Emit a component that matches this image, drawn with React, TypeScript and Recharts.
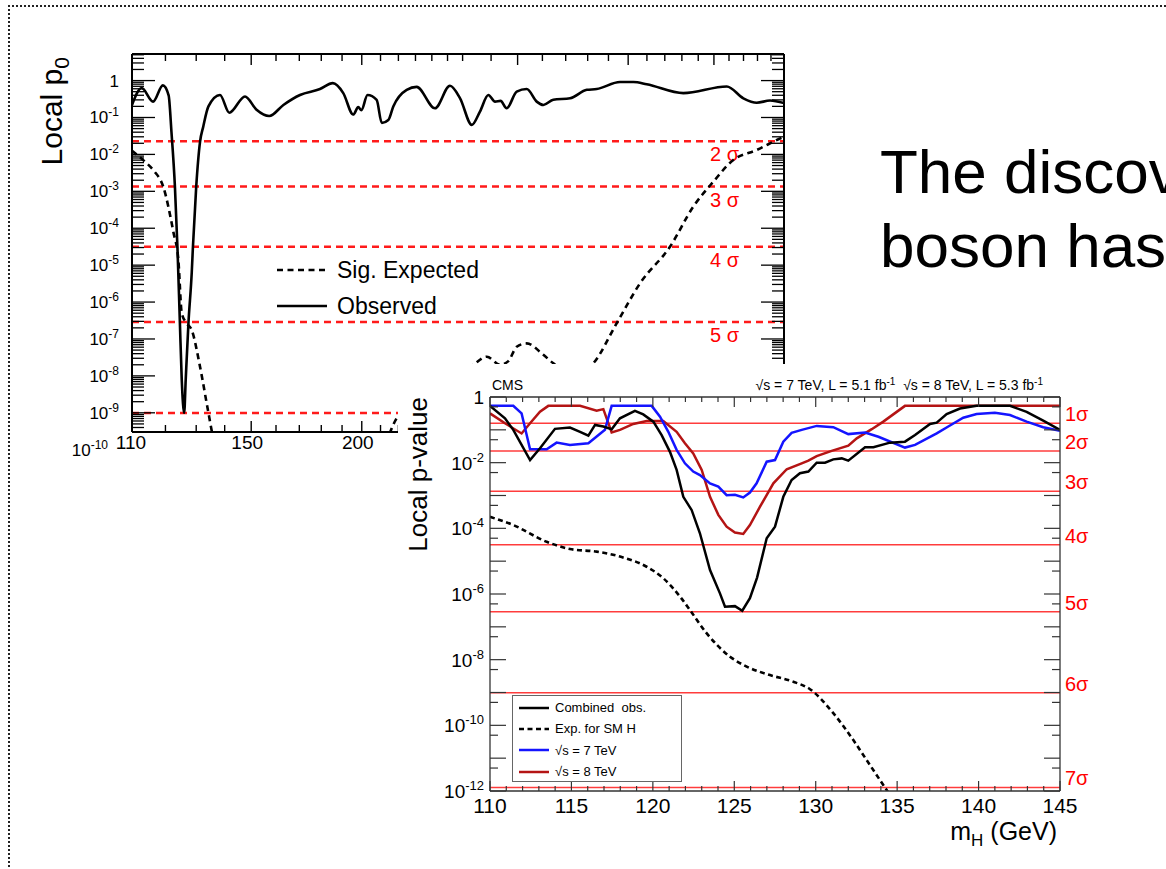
import React from "react";
import { LineChart, Line, XAxis, YAxis, ReferenceLine, Legend, Label } from "recharts";

const FONT = "'Liberation Sans', Arial, Helvetica, sans-serif";

// ---------- back figure: local p0 vs mH (110-600 GeV, log x) ----------
const bgObsMass = [110, 112.8, 116.2, 119.2, 121.0, 121.9, 123.0, 123.8, 124.6, 125.2, 126.0, 126.5, 127.4, 128.5, 128.9, 130.0, 131.3, 132.4, 134.2, 138.3, 141.7, 147.6, 152.1, 157.2, 163.1, 170.3, 179.4, 185.5, 190.6, 195.6, 198.2, 199.8, 203.0, 207.9, 210.7, 214.3, 217.1, 224.8, 230.7, 242, 251.6, 258.3, 266.3, 272, 278, 282.9, 287, 291.6, 299.3, 307.2, 315.3, 320.8, 329.2, 343.9, 359.2, 368.6, 391.6, 405.5, 419.8, 461.8, 517, 539.8, 558.9, 578.6, 600];
const bgObsLogP = [-0.66, -0.2, -0.57, -0.13, -0.4, -1.4, -2.88, -4.5, -6.57, -8.1, -9.0, -8.1, -6.57, -5.2, -4.5, -2.88, -1.66, -1.25, -0.7, -0.39, -0.87, -0.43, -0.79, -0.96, -0.66, -0.39, -0.23, -0.07, -0.34, -0.92, -0.72, -0.8, -0.39, -0.52, -1.15, -1.07, -0.7, -0.25, -0.17, -0.75, -0.14, -0.48, -1.2, -0.84, -0.39, -0.57, -0.55, -0.75, -0.3, -0.23, -0.57, -0.66, -0.52, -0.48, -0.25, -0.23, -0.04, -0.04, -0.1, -0.34, -0.16, -0.48, -0.6, -0.54, -0.61];
const bgExpMass = [110, 113.8, 116.5, 119.3, 122.5, 124.1, 125.2, 126.8, 128.5, 131.3, 134.2, 136, 145, 170, 200, 212, 219, 240, 267.3, 276.9, 286.6, 292.9, 299.3, 307.2, 320.8, 329.2, 346.5, 365.3, 388.3, 412.6, 446, 474, 499.2, 525.9, 558.9, 591.3, 600];
const bgExpLogP = [-1.9, -2.2, -2.45, -2.87, -4.1, -4.86, -6.3, -6.57, -6.76, -7.75, -9.0, -9.7, -10.8, -11.5, -10.8, -9.9, -9.15, -8.4, -7.7, -7.48, -7.7, -7.6, -7.21, -7.12, -7.43, -7.66, -8.0, -7.66, -6.57, -5.49, -4.5, -3.41, -2.74, -2.15, -1.88, -1.59, -1.52];
const bgSigmaNames = ["2 σ", "3 σ", "4 σ", "5 σ", "6 σ"];
const bgSigmaP = [2.275e-2, 1.35e-3, 3.17e-5, 2.87e-7, 9.87e-10];
const bgXTicks = [110, 120, 130, 140, 150, 160, 170, 180, 190, 200, 210, 220, 230, 240, 250, 260, 280, 300, 320, 340, 360, 380, 400, 420, 440, 460, 480, 500, 520, 540, 560, 580, 600];
const bgXLabels = [110, 150, 200, 300, 400, 500, 600];
const bgDecades = [0, -1, -2, -3, -4, -5, -6, -7, -8, -9, -10];
const BG_EXP = "Sig. Expected";
const BG_OBS = "Observed";
const bgLegendOrder = [BG_EXP, BG_OBS];

// ---------- front figure: CMS local p-value (110-145 GeV) ----------
const cmsObsMass = [110, 110.92, 111.43, 112.46, 113.07, 113.99, 114.91, 115.53, 116.04, 116.45, 116.96, 117.47, 117.98, 118.9, 119.41, 120.03, 120.54, 121.05, 121.46, 121.87, 122.38, 122.89, 123.51, 124.12, 124.43, 125.04, 125.49, 125.96, 126.4, 126.99, 127.5, 128.01, 128.52, 129.03, 129.55, 130.06, 130.57, 131.08, 131.6, 132.0, 133.03, 133.54, 134.56, 135.48, 136.1, 137.02, 137.43, 138.04, 138.86, 139.88, 141.93, 142.95, 143.97, 145];
const cmsObsLogP = [-0.27, -0.65, -1.0, -1.92, -1.56, -0.97, -0.93, -1.06, -1.18, -0.85, -0.9, -0.98, -0.65, -0.42, -0.53, -0.75, -1.16, -1.67, -2.22, -3.04, -3.44, -4.15, -5.27, -5.98, -6.39, -6.37, -6.51, -6.13, -5.5, -4.3, -3.95, -3.04, -2.53, -2.32, -2.27, -2.0, -2.0, -1.9, -1.87, -1.94, -1.53, -1.53, -1.39, -1.36, -1.16, -0.82, -0.78, -0.52, -0.35, -0.27, -0.27, -0.45, -0.72, -1.0];
const cms7Mass = [110, 111.43, 111.94, 112.46, 113.48, 114.09, 114.91, 116.04, 117.06, 117.47, 119.93, 120.44, 120.95, 121.46, 121.97, 122.48, 122.89, 123.51, 124.02, 124.53, 125.04, 125.55, 125.96, 126.37, 126.99, 127.5, 128.01, 128.52, 129.14, 130.06, 131.08, 132.0, 133.03, 133.85, 135.48, 136.1, 137.43, 138.14, 139.06, 139.88, 141.0, 141.93, 142.95, 143.97, 145];
const cms7LogP = [-0.27, -0.27, -0.5, -1.59, -1.59, -1.39, -1.46, -1.41, -1.0, -0.27, -0.27, -0.6, -1.06, -1.61, -2.02, -2.27, -2.38, -2.63, -2.73, -2.99, -2.98, -3.06, -2.91, -2.63, -1.97, -1.92, -1.36, -1.09, -1.0, -0.88, -0.92, -1.13, -1.08, -1.21, -1.54, -1.46, -1.11, -0.9, -0.63, -0.52, -0.48, -0.55, -0.75, -0.92, -1.03];
const cms8Mass = [110, 110.92, 111.94, 112.46, 113.07, 113.58, 115.53, 116.55, 116.96, 117.47, 117.98, 118.8, 119.62, 120.64, 121.46, 121.97, 122.48, 123.0, 123.51, 124.02, 124.53, 125.04, 125.55, 125.96, 126.58, 127.4, 128.22, 129.14, 129.55, 130.06, 130.98, 132.0, 132.52, 133.44, 134.15, 135.48, 145];
const cms8LogP = [-0.5, -0.8, -1.11, -0.8, -0.45, -0.27, -0.27, -0.42, -0.37, -1.08, -1.0, -0.82, -0.73, -0.73, -1.06, -1.41, -1.72, -2.22, -3.04, -3.59, -3.95, -4.13, -4.17, -3.9, -3.34, -2.63, -2.2, -2.02, -1.94, -1.8, -1.64, -1.48, -1.26, -0.98, -0.75, -0.27, -0.27];
const cmsExpMass = [110, 111.43, 113.48, 114.91, 116.55, 117.98, 119.62, 120.64, 121.67, 122.28, 123.31, 124.74, 125.76, 127.19, 128.62, 129.65, 131.08, 132.31, 133.13, 133.95, 134.4, 135.5];
const cmsExpLogP = [-3.65, -3.9, -4.41, -4.63, -4.71, -4.86, -5.17, -5.52, -6.08, -6.49, -7.2, -7.91, -8.21, -8.47, -8.67, -8.9, -9.63, -10.45, -11.06, -11.67, -12.0, -12.8];
const cmsSigmaNames = ["1σ", "2σ", "3σ", "4σ", "5σ", "6σ", "7σ"];
const cmsSigmaP = [0.1587, 0.02275, 1.35e-3, 3.17e-5, 2.87e-7, 9.87e-10, 1.28e-12];
const cmsXTicks = Array.from({ length: 36 }, (_, i) => 110 + i);
const cmsXLabels = [110, 115, 120, 125, 130, 135, 140, 145];
const cmsDecades = [0, -1, -2, -3, -4, -5, -6, -7, -8, -9, -10, -11, -12];
const CMS_OBS = "Combined  obs.";
const CMS_EXP = "Exp. for SM H";
const CMS_7 = "√s = 7 TeV";
const CMS_8 = "√s = 8 TeV";
const cmsLegendOrder = [CMS_OBS, CMS_EXP, CMS_7, CMS_8];

// ---------- helpers ----------
const toRows = (ms: number[], ls: number[]) => ms.map((m, i) => ({ m, p: 10 ** ls[i] }));
const isDecade = (v: number) => Math.abs(Math.log10(v) - Math.round(Math.log10(v))) < 1e-6;

const bgYDomain: [number, number] = [10 ** -9.52, 10 ** 0.72];
const bgYTicks = bgDecades
  .flatMap((d) => [1, 2, 3, 4, 5, 6, 7, 8, 9].map((k) => k * 10 ** d))
  .filter((v) => v <= bgYDomain[1] && v >= 0.999e-10);
const cmsYTicks = [
  ...cmsDecades.map((d) => 10 ** d),
  ...cmsDecades.slice(1).map((d) => 5 * 10 ** d),
];

const bgStyle: Record<string, { dash?: string }> = { [BG_EXP]: { dash: "6 4.5" }, [BG_OBS]: {} };
const cmsStyle: Record<string, { stroke: string; dash?: string }> = {
  [CMS_OBS]: { stroke: "#000" },
  [CMS_EXP]: { stroke: "#000", dash: "5 3.5" },
  [CMS_7]: { stroke: "#1414ff" },
  [CMS_8]: { stroke: "#b41414" },
};

function Pow({ x, y, exp, fs, sfs }: { x: number; y: number; exp: number; fs: number; sfs: number }) {
  return (
    <text x={x} y={y} textAnchor="end" fontFamily={FONT} fontSize={fs} fill="#000">
      {exp === 0 ? "1" : "10"}
      {exp !== 0 && (
        <tspan dy={-Math.round(fs * 0.42)} fontSize={sfs}>
          {String(exp)}
        </tspan>
      )}
    </text>
  );
}

function BgXTick(props: any) {
  const { x, y, payload, side } = props;
  const v = payload.value;
  const major = bgXLabels.includes(v);
  const dir = side === "bottom" ? -1 : 1;
  return (
    <g>
      <line x1={x} y1={y} x2={x} y2={y + dir * (major ? 11 : 7)} stroke="#000" strokeWidth={1.4} />
      {side === "bottom" && major && (
        <text x={v === 110 ? x - 1 : x - 4} y={y + 17} textAnchor="middle" fontFamily={FONT} fontSize={19} fill="#000">
          {v}
        </text>
      )}
    </g>
  );
}

function BgYTick(props: any) {
  const { x, y, payload, side } = props;
  const v = payload.value;
  const major = isDecade(v);
  const inside = v >= bgYDomain[0];
  const dir = side === "left" ? 1 : -1;
  return (
    <g>
      {inside && <line x1={x} y1={y} x2={x + dir * (major ? 23 : 12)} y2={y} stroke="#000" strokeWidth={1.3} />}
      {side === "left" && major && (
        <Pow x={inside ? x - 13 : x - 24} y={y + 6} exp={Math.round(Math.log10(v))} fs={17} sfs={12} />
      )}
    </g>
  );
}

function CmsXTick(props: any) {
  const { x, y, payload, side } = props;
  const v = payload.value;
  const major = cmsXLabels.includes(v);
  const dir = side === "bottom" ? -1 : 1;
  return (
    <g>
      <line x1={x} y1={y} x2={x} y2={y + dir * (major ? 10 : 5)} stroke="#333" strokeWidth={1.2} />
      {side === "bottom" && major && (
        <text x={x} y={y + 22} textAnchor="middle" fontFamily={FONT} fontSize={21} fill="#000">
          {v}
        </text>
      )}
    </g>
  );
}

function CmsYTick(props: any) {
  const { x, y, payload, side } = props;
  const v = payload.value;
  const major = isDecade(v);
  const e = Math.round(Math.log10(v));
  const dir = side === "left" ? 1 : -1;
  return (
    <g>
      <line x1={x} y1={y} x2={x + dir * (major ? 16 : 8)} y2={y} stroke="#333" strokeWidth={1.2} />
      {side === "left" && major && e % 2 === 0 && <Pow x={x - 6} y={y + 7} exp={e} fs={19} sfs={13} />}
    </g>
  );
}

function BgLegendBox(props: any) {
  const items = [...(props.payload ?? [])].sort(
    (a: any, b: any) => bgLegendOrder.indexOf(a.value) - bgLegendOrder.indexOf(b.value)
  );
  return (
    <div style={{ fontFamily: FONT, fontSize: 23, color: "#000" }}>
      {items.map((it: any) => (
        <div key={it.value} style={{ height: 36, display: "flex", alignItems: "center" }}>
          <svg width={52} height={6} style={{ display: "block" }}>
            <line x1={0} x2={50} y1={3} y2={3} stroke="#000" strokeWidth={2.6} strokeDasharray={bgStyle[it.value]?.dash} />
          </svg>
          <span style={{ marginLeft: 8, lineHeight: 1 }}>{it.value}</span>
        </div>
      ))}
    </div>
  );
}

function CmsLegendBox(props: any) {
  const items = [...(props.payload ?? [])].sort(
    (a: any, b: any) => cmsLegendOrder.indexOf(a.value) - cmsLegendOrder.indexOf(b.value)
  );
  return (
    <div
      style={{
        width: 170,
        height: 87,
        boxSizing: "border-box",
        border: "1px solid #666",
        background: "#fff",
        fontFamily: FONT,
        fontSize: 13,
        color: "#000",
        paddingTop: 1,
      }}
    >
      {items.map((it: any) => (
        <div key={it.value} style={{ height: 21.3, display: "flex", alignItems: "center" }}>
          <svg width={40} height={6} style={{ display: "block" }}>
            <line x1={6} x2={36} y1={3} y2={3} stroke={cmsStyle[it.value]?.stroke} strokeWidth={2.5} strokeDasharray={cmsStyle[it.value]?.dash} />
          </svg>
          <span style={{ marginLeft: 2, whiteSpace: "pre", lineHeight: 1 }}>{it.value}</span>
        </div>
      ))}
    </div>
  );
}

// the back figure's 6 sigma label sits under the front figure, so it is not drawn
const bgSigmaLabel = (name: string, hidden: boolean) => (p: any) =>
  hidden ? <g /> : (
    <text x={p.viewBox.x + p.viewBox.width - 74} y={p.viewBox.y + 20} fontFamily={FONT} fontSize={20} fill="#ff0000">
      {name}
    </text>
  );

const cmsSigmaLabel = (name: string) => (p: any) => (
  <text x={p.viewBox.x + p.viewBox.width + 5} y={p.viewBox.y - 2} fontFamily={FONT} fontSize={20} fill="#ff0000">
    {name}
  </text>
);

export default function App() {
  const bgExpRows = toRows(bgExpMass, bgExpLogP);
  const bgObsRows = toRows(bgObsMass, bgObsLogP);
  const cms8Rows = toRows(cms8Mass, cms8LogP);
  const cms7Rows = toRows(cms7Mass, cms7LogP);
  const cmsExpRows = toRows(cmsExpMass, cmsExpLogP);
  const cmsObsRows = toRows(cmsObsMass, cmsObsLogP);

  return (
    <div
      style={{
        position: "absolute",
        left: 0,
        top: 0,
        width: 1166,
        height: 869,
        overflow: "hidden",
        background: "#fff",
        fontFamily: FONT,
      }}
    >
      {/* slide frame */}
      <div
        style={{
          position: "absolute",
          left: 8,
          top: 5,
          width: 1200,
          height: 900,
          borderTop: "2px dotted #222",
          borderLeft: "2px dotted #222",
        }}
      />

      {/* slide text */}
      <div
        style={{
          position: "absolute",
          left: 880,
          top: 135,
          fontSize: 62,
          lineHeight: "74px",
          whiteSpace: "nowrap",
          color: "#000",
        }}
      >
        <div>The discovery</div>
        <div>boson has</div>
      </div>

      {/* back figure */}
      <div style={{ position: "absolute", left: 0, top: 0 }}>
        <LineChart width={820} height={470} margin={{ top: 53, right: 35, bottom: 37, left: 131 }}>
          <XAxis
            xAxisId="b"
            dataKey="m"
            type="number"
            scale="log"
            domain={[110, 600]}
            allowDataOverflow
            ticks={bgXTicks}
            interval={0}
            tick={(p: any) => <BgXTick {...p} side="bottom" />}
            tickLine={false}
            tickSize={0}
            tickMargin={0}
            height={1}
            axisLine={{ stroke: "#000", strokeWidth: 2 }}
          />
          <XAxis
            xAxisId="t"
            orientation="top"
            dataKey="m"
            type="number"
            scale="log"
            domain={[110, 600]}
            allowDataOverflow
            ticks={bgXTicks}
            interval={0}
            tick={(p: any) => <BgXTick {...p} side="top" />}
            tickLine={false}
            tickSize={0}
            tickMargin={0}
            height={1}
            axisLine={{ stroke: "#000", strokeWidth: 2 }}
          />
          <YAxis
            yAxisId="l"
            type="number"
            scale="log"
            domain={bgYDomain}
            allowDataOverflow
            ticks={bgYTicks}
            interval={0}
            tick={(p: any) => <BgYTick {...p} side="left" />}
            tickLine={false}
            tickSize={0}
            tickMargin={0}
            width={1}
            axisLine={{ stroke: "#000", strokeWidth: 2 }}
          >
            <Label
              content={(p: any) => {
                const x = p.viewBox.x + p.viewBox.width - 70;
                const y = p.viewBox.y + 3;
                return (
                  <text transform={`rotate(-90 ${x} ${y})`} x={x} y={y} textAnchor="end" fontFamily={FONT} fontSize={30} fill="#000">
                    Local p<tspan dy={7} fontSize={21}>0</tspan>
                  </text>
                );
              }}
            />
          </YAxis>
          <YAxis
            yAxisId="r"
            orientation="right"
            type="number"
            scale="log"
            domain={bgYDomain}
            allowDataOverflow
            ticks={bgYTicks}
            interval={0}
            tick={(p: any) => <BgYTick {...p} side="right" />}
            tickLine={false}
            tickSize={0}
            tickMargin={0}
            width={1}
            axisLine={{ stroke: "#000", strokeWidth: 2 }}
          />
          {bgSigmaP.map((p, i) => (
            <ReferenceLine
              key={bgSigmaNames[i]}
              xAxisId="b"
              yAxisId="l"
              y={p}
              stroke="#ff1a1a"
              strokeWidth={2.5}
              strokeDasharray="7 5"
              label={bgSigmaLabel(bgSigmaNames[i], i === bgSigmaP.length - 1)}
            />
          ))}
          <Line
            xAxisId="b"
            yAxisId="l"
            data={bgExpRows}
            dataKey="p"
            name={BG_EXP}
            type="monotone"
            stroke="#000"
            strokeWidth={2.6}
            strokeDasharray={bgStyle[BG_EXP].dash}
            dot={false}
            isAnimationActive={false}
          />
          <Line
            xAxisId="b"
            yAxisId="l"
            data={bgObsRows}
            dataKey="p"
            name={BG_OBS}
            type="monotone"
            stroke="#000"
            strokeWidth={2.6}
            dot={false}
            isAnimationActive={false}
          />
          <Legend
            layout="vertical"
            align="center"
            verticalAlign="middle"
            content={BgLegendBox}
            wrapperStyle={{ left: 277, top: 252, width: 270, height: 72 }}
          />
        </LineChart>
      </div>

      {/* front figure */}
      <div style={{ position: "absolute", left: 398, top: 364, width: 768, height: 490, background: "#fff" }}>
        <LineChart width={768} height={490} margin={{ top: 32, right: 105, bottom: 62, left: 91 }}>
          <XAxis
            xAxisId="b"
            dataKey="m"
            type="number"
            domain={[110, 145]}
            allowDataOverflow
            ticks={cmsXTicks}
            interval={0}
            tick={(p: any) => <CmsXTick {...p} side="bottom" />}
            tickLine={false}
            tickSize={0}
            tickMargin={0}
            height={1}
            axisLine={{ stroke: "#333", strokeWidth: 1.3 }}
          >
            <Label
              content={(p: any) => (
                <text x={p.viewBox.x + p.viewBox.width - 3} y={p.viewBox.y + 49} textAnchor="end" fontFamily={FONT} fontSize={25} fill="#000">
                  m<tspan dy={6} fontSize={17}>H</tspan>
                  <tspan dy={-6}> (GeV)</tspan>
                </text>
              )}
            />
          </XAxis>
          <XAxis
            xAxisId="t"
            orientation="top"
            dataKey="m"
            type="number"
            domain={[110, 145]}
            allowDataOverflow
            ticks={cmsXTicks}
            interval={0}
            tick={(p: any) => <CmsXTick {...p} side="top" />}
            tickLine={false}
            tickSize={0}
            tickMargin={0}
            height={1}
            axisLine={{ stroke: "#333", strokeWidth: 1.3 }}
          >
            <Label
              content={(p: any) => (
                <g fontFamily={FONT} fontSize={14} fill="#000">
                  <text x={p.viewBox.x + 2} y={p.viewBox.y - 6}>CMS</text>
                  <text x={p.viewBox.x + p.viewBox.width - 17} y={p.viewBox.y - 6} textAnchor="end" style={{ whiteSpace: "pre" }}>
                    √s = 7 TeV, L = 5.1 fb<tspan dy={-5} fontSize={10}>-1</tspan>
                    <tspan dy={5}>  √s = 8 TeV, L = 5.3 fb</tspan>
                    <tspan dy={-5} fontSize={10}>-1</tspan>
                  </text>
                </g>
              )}
            />
          </XAxis>
          <YAxis
            yAxisId="l"
            type="number"
            scale="log"
            domain={[1e-12, 1]}
            allowDataOverflow
            ticks={cmsYTicks}
            interval={0}
            tick={(p: any) => <CmsYTick {...p} side="left" />}
            tickLine={false}
            tickSize={0}
            tickMargin={0}
            width={1}
            axisLine={{ stroke: "#333", strokeWidth: 1.3 }}
          >
            <Label
              content={(p: any) => {
                const x = p.viewBox.x + p.viewBox.width - 63;
                const y = p.viewBox.y;
                return (
                  <text transform={`rotate(-90 ${x} ${y})`} x={x} y={y} textAnchor="end" fontFamily={FONT} fontSize={26} fill="#000">
                    Local p-value
                  </text>
                );
              }}
            />
          </YAxis>
          <YAxis
            yAxisId="r"
            orientation="right"
            type="number"
            scale="log"
            domain={[1e-12, 1]}
            allowDataOverflow
            ticks={cmsYTicks}
            interval={0}
            tick={(p: any) => <CmsYTick {...p} side="right" />}
            tickLine={false}
            tickSize={0}
            tickMargin={0}
            width={1}
            axisLine={{ stroke: "#333", strokeWidth: 1.3 }}
          />
          {cmsSigmaP.map((p, i) => (
            <ReferenceLine
              key={cmsSigmaNames[i]}
              xAxisId="b"
              yAxisId="l"
              y={p}
              stroke="#ff3c3c"
              strokeWidth={1.5}
              label={cmsSigmaLabel(cmsSigmaNames[i])}
            />
          ))}
          <Line xAxisId="b" yAxisId="l" data={cms8Rows} dataKey="p" name={CMS_8} type="linear" stroke={cmsStyle[CMS_8].stroke} strokeWidth={2.5} dot={false} isAnimationActive={false} />
          <Line xAxisId="b" yAxisId="l" data={cms7Rows} dataKey="p" name={CMS_7} type="linear" stroke={cmsStyle[CMS_7].stroke} strokeWidth={2.5} dot={false} isAnimationActive={false} />
          <Line xAxisId="b" yAxisId="l" data={cmsExpRows} dataKey="p" name={CMS_EXP} type="monotone" stroke={cmsStyle[CMS_EXP].stroke} strokeDasharray={cmsStyle[CMS_EXP].dash} strokeWidth={2.6} dot={false} isAnimationActive={false} />
          <Line xAxisId="b" yAxisId="l" data={cmsObsRows} dataKey="p" name={CMS_OBS} type="linear" stroke={cmsStyle[CMS_OBS].stroke} strokeWidth={2.5} dot={false} isAnimationActive={false} />
          <Legend
            layout="vertical"
            align="center"
            verticalAlign="middle"
            content={CmsLegendBox}
            wrapperStyle={{ left: 114, top: 331, width: 170, height: 87 }}
          />
        </LineChart>
      </div>
    </div>
  );
}
